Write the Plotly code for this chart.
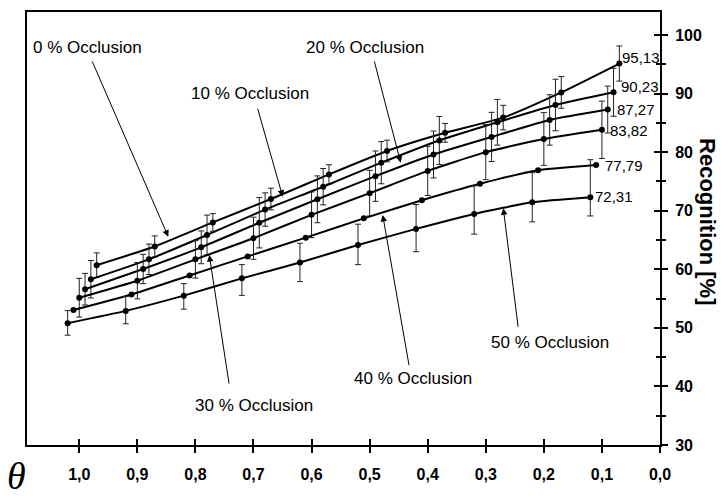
import plotly.graph_objects as go

# ---- data ----
x_occ0 = [0.97, 0.87, 0.77, 0.67, 0.57, 0.47, 0.37, 0.27, 0.17, 0.07]
x_occ10 = [0.98, 0.88, 0.78, 0.68, 0.58, 0.48, 0.38, 0.28, 0.18, 0.08]
x_occ20 = [0.99, 0.89, 0.79, 0.69, 0.59, 0.49, 0.39, 0.29, 0.19, 0.09]
x_occ30 = [1.00, 0.90, 0.80, 0.70, 0.60, 0.50, 0.40, 0.30, 0.20, 0.10]
x_occ40 = [1.01, 0.91, 0.81, 0.71, 0.61, 0.51, 0.41, 0.31, 0.21, 0.11]
x_occ50 = [1.02, 0.92, 0.82, 0.72, 0.62, 0.52, 0.42, 0.32, 0.22, 0.12]

occ0 = [60.7, 63.9, 68.0, 72.0, 76.2, 80.2, 83.3, 85.9, 90.2, 95.13]
occ10 = [58.3, 61.7, 65.85, 70.2, 74.1, 78.2, 82.0, 85.1, 88.05, 90.23]
occ20 = [56.6, 60.05, 63.75, 67.95, 71.95, 75.9, 79.6, 82.6, 85.5, 87.27]
occ30 = [55.15, 58.05, 61.7, 65.3, 69.3, 73.0, 76.8, 80.0, 82.25, 83.82]
occ40 = [53.05, 55.7, 58.95, 62.2, 65.4, 68.7, 71.8, 74.6, 76.9, 77.79]
occ50 = [50.8, 52.9, 55.5, 58.45, 61.15, 64.15, 66.9, 69.45, 71.45, 72.31]

err0 = [2.1, 1.8, 1.5, 1.85, 1.65, 1.85, 1.6, 2.1, 2.7, 3.0]
err10 = [3.2, 2.6, 3.4, 2.85, 3.1, 3.6, 4.1, 3.9, 4.4, 4.1]
err20 = [2.7, 2.5, 2.8, 4.3, 4.0, 4.3, 4.0, 4.2, 4.3, 4.0]
err30 = [3.3, 3.1, 3.2, 3.6, 3.9, 3.9, 4.2, 4.7, 4.5, 4.9]
err50_plus = [2.15, 2.45, 2.05, 2.35, 3.3, 3.55, 4.15, 4.8, 5.05, 6.4]
err50_minus = [2.05, 2.2, 2.3, 2.9, 3.25, 3.35, 3.9, 3.45, 3.35, 3.2]

end_labels = ["95,13", "90,23", "87,27", "83,82", "77,79", "72,31"]
series_names = ["0 % Occlusion", "10 % Occlusion", "20 % Occlusion",
                "30 % Occlusion", "40 % Occlusion", "50 % Occlusion"]

x_tickvals = [1.0, 0.9, 0.8, 0.7, 0.6, 0.5, 0.4, 0.3, 0.2, 0.1, 0.0]
x_ticktext = ["1,0", "0,9", "0,8", "0,7", "0,6", "0,5", "0,4", "0,3", "0,2", "0,1", "0,0"]
y_tickvals = [30, 40, 50, 60, 70, 80, 90, 100]
y_minorvals = [35, 45, 55, 65, 75, 85, 95]

XR = [1.09, 0.0]
YR = [30, 103.93]

fig = go.Figure()

def add_series(xs, ys, name, err=None, err_minus=None):
    ey = None
    if err is not None:
        ey = dict(type="data", array=err, color="#222", thickness=1, width=3)
        if err_minus is not None:
            ey["symmetric"] = False
            ey["arrayminus"] = err_minus
        else:
            ey["symmetric"] = True
    fig.add_trace(go.Scatter(
        x=xs, y=ys, name=name, mode="lines+markers",
        line=dict(color="black", width=2, shape="spline", smoothing=0.5),
        marker=dict(color="black", size=6),
        error_y=ey, showlegend=False, cliponaxis=False))

add_series(x_occ0, occ0, series_names[0], err0)
add_series(x_occ10, occ10, series_names[1], err10)
add_series(x_occ20, occ20, series_names[2], err20)
add_series(x_occ30, occ30, series_names[3], err30)
add_series(x_occ40, occ40, series_names[4])
add_series(x_occ50, occ50, series_names[5], err50_plus, err50_minus)

# dummy traces for overlay axes
fig.add_trace(go.Scatter(x=[None], y=[None], xaxis="x2", yaxis="y2", showlegend=False))
fig.add_trace(go.Scatter(x=[None], y=[None], xaxis="x3", yaxis="y3", showlegend=False))

tickfont = dict(family="Liberation Sans, Arial, sans-serif", size=16, color="black")

fig.update_layout(
    width=721, height=501,
    margin=dict(l=27, r=61, t=12, b=56),
    paper_bgcolor="white", plot_bgcolor="white",
    font=dict(family="Liberation Sans, Arial, sans-serif", color="black"),
    xaxis=dict(range=XR, side="bottom", anchor="y", showline=True, linewidth=2,
               linecolor="black", ticks="outside", ticklen=6, tickwidth=1.5,
               tickcolor="black", tickvals=x_tickvals, ticktext=x_ticktext,
               tickfont=dict(tickfont, weight="bold"), showgrid=False, zeroline=False,
               ticklabelstandoff=8),
    xaxis2=dict(range=XR, overlaying="x", side="bottom", anchor="y2", showline=False,
                ticks="inside", ticklen=6, tickwidth=1.5, tickcolor="black",
                tickvals=x_tickvals, showticklabels=False, showgrid=False, zeroline=False),
    xaxis3=dict(range=XR, overlaying="x", side="top", anchor="y3", showline=True,
                linewidth=1.5, linecolor="black", ticks="", showticklabels=False,
                showgrid=False, zeroline=False),
    yaxis=dict(range=YR, side="right", anchor="x", showline=True, linewidth=2,
               linecolor="black", ticks="outside", ticklen=6, tickwidth=1.5,
               tickcolor="black", tickvals=y_tickvals,
               tickfont=dict(tickfont, weight="bold"), showgrid=False, zeroline=False,
               minor=dict(tickvals=y_minorvals, ticks="outside",
                          ticklen=4, tickwidth=1.5, tickcolor="black", showgrid=False),
               ticklabelstandoff=4),
    yaxis2=dict(range=YR, overlaying="y", side="right", anchor="x2", showline=False,
                ticks="inside", ticklen=6, tickwidth=1.5, tickcolor="black",
                tickvals=y_tickvals, showticklabels=False, showgrid=False, zeroline=False,
                minor=dict(tickvals=y_minorvals, ticks="inside",
                           ticklen=4, tickwidth=1.5, tickcolor="black", showgrid=False)),
    yaxis3=dict(range=YR, overlaying="y", side="left", anchor="x3", showline=True,
                linewidth=1.5, linecolor="black", ticks="", showticklabels=False,
                showgrid=False, zeroline=False),
)

# series labels (text)
label_pos = [(0.9855, 97.95), (0.7066, 90.10), (0.508, 97.95),
             (0.6997, 36.83), (0.4245, 41.44), (0.1886, 47.53)]
for name, (lx, ly) in zip(series_names, label_pos):
    fig.add_annotation(x=lx, y=ly, xref="x", yref="y", text=name, showarrow=False,
                       font=dict(size=17, color="black"), xanchor="center", yanchor="middle")

# arrows: (tail x, tail y, tip x, tip y)
arrows = [(0.9787, 95.73, 0.8467, 65.57), (0.6935, 87.66, 0.6497, 72.39),
          (0.4925, 95.73, 0.4465, 78.20), (0.7417, 40.24, 0.7761, 62.44),
          (0.4317, 43.37, 0.4775, 69.27), (0.2440, 49.92, 0.2698, 70.41)]
for tx, ty, hx, hy in arrows:
    fig.add_annotation(x=hx, y=hy, ax=tx, ay=ty, xref="x", yref="y", axref="x", ayref="y",
                       text="", showarrow=True, arrowhead=2, arrowsize=1.3, arrowwidth=1,
                       arrowcolor="black", standoff=0, startstandoff=0)

# end value labels
end_pos = [(0.0689, 96.19), (0.0706, 91.29), (0.0775, 87.20),
           (0.0895, 83.78), (0.0982, 77.69), (0.1154, 72.39)]
for t, (vx, vy) in zip(end_labels, end_pos):
    fig.add_annotation(x=vx, y=vy, xref="x", yref="y", text=t, showarrow=False,
                       font=dict(size=15, color="black"), xanchor="left", yanchor="middle")

# axis titles
fig.add_annotation(x=1.0758, y=0.515, xref="paper", yref="paper", text="<b>Recognition [%]</b>",
                   textangle=90, showarrow=False, font=dict(size=22, color="black"),
                   xanchor="center", yanchor="middle")
fig.add_annotation(x=-0.0158, y=-0.072, xref="paper", yref="paper", text="<i>θ</i>",
                   showarrow=False, font=dict(family="Liberation Serif, Times New Roman, serif",
                                              size=38, color="black"),
                   xanchor="center", yanchor="middle", borderpad=0)

fig.write_html("out.html")
